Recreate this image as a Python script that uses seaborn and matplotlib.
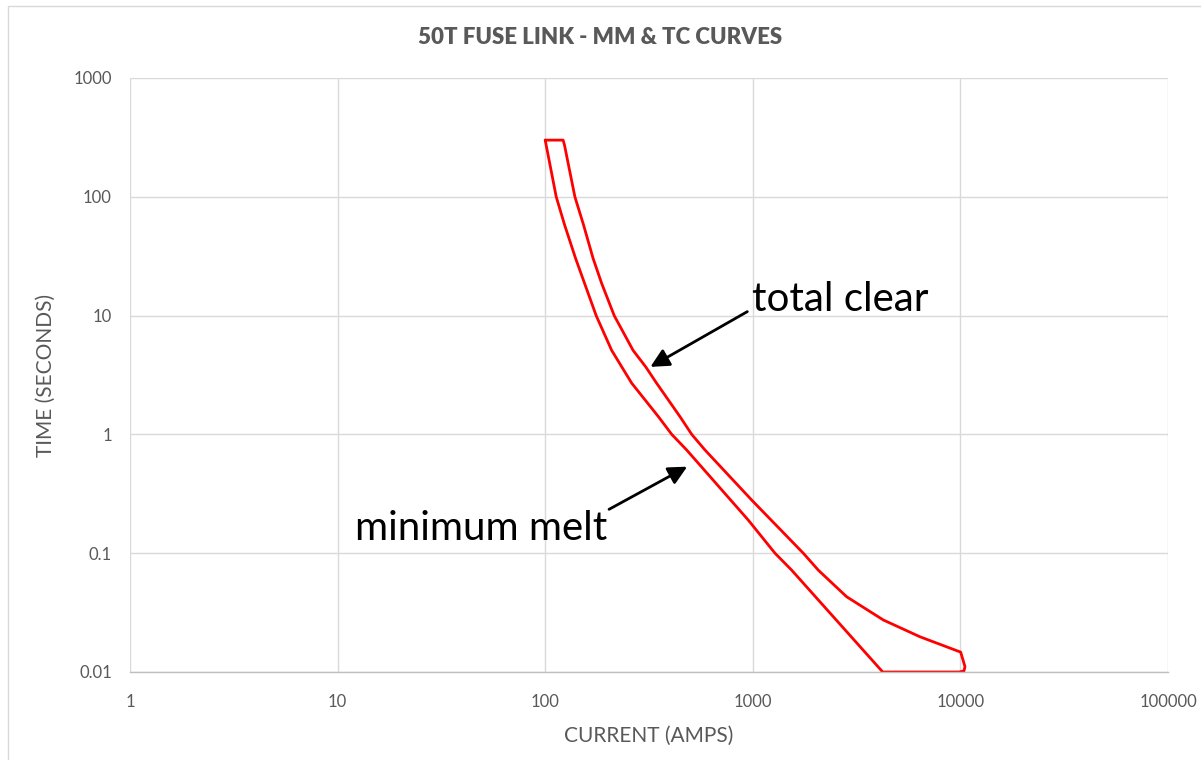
"""50T fuse link: minimum melt and total clear time-current curves."""

import numpy as np
import matplotlib
matplotlib.use('Agg')
import matplotlib.pyplot as plt
import seaborn as sns
from matplotlib.patches import Rectangle
from matplotlib.ticker import FixedLocator, FixedFormatter, NullLocator

# ── Data ──────────────────────────────────────────────────────────────────────
# minimum melt, top to bottom
mm_current = [100, 113, 124, 140, 176, 209, 261, 351, 407, 480, 951, 1279, 1539, 4225]
mm_time    = [300, 100, 58, 30.4, 10, 5.1, 2.7, 1.41, 1.0, 0.74, 0.19, 0.1, 0.072, 0.01]

# bottom-right corner where the outline closes at 0.01 s
hook_current = [9850, 10400, 10520]
hook_time    = [0.0100, 0.0102, 0.0111]

# total clear, top to bottom
tc_current = [122, 124, 139, 153, 170, 187, 215, 265, 305, 344, 446, 508, 588, 988,
              1751, 2068, 2831, 4255, 6383, 10030]
tc_time    = [300, 270, 100, 58, 30.4, 18.7, 10, 5.1, 3.7, 2.7, 1.41, 1.0, 0.74, 0.28,
              0.1, 0.072, 0.043, 0.0274, 0.0198, 0.0147]

x_ticks = [1, 10, 100, 1000, 10000, 100000]
x_tick_labels = ["1", "10", "100", "1000", "10000", "100000"]
y_ticks = [0.01, 0.1, 1, 10, 100, 1000]
y_tick_labels = ["0.01", "0.1", "1", "10", "100", "1000"]

# closed outline: MM down, along the bottom, TC back up, across the top
loop_current = mm_current + hook_current + tc_current[::-1] + mm_current[:1]
loop_time = mm_time + hook_time + tc_time[::-1] + mm_time[:1]

# ── Plot ──────────────────────────────────────────────────────────────────────
sns.set_theme(style='white')
plt.rcParams['font.family'] = ['Lato', 'DejaVu Sans']

TEXT_GREY = '#595959'
GRID_GREY = '#d9d9d9'

fig = plt.figure(figsize=(12.01, 7.6), dpi=100)
ax = fig.add_axes([130 / 1201, 1 - 672 / 760, (1168 - 130) / 1201, (672 - 78) / 760])

sns.lineplot(x=loop_current, y=loop_time, sort=False, estimator=None,
             color='#ff0000', linewidth=2.0, ax=ax)

ax.set_xscale('log')
ax.set_yscale('log')
ax.set_xlim(1, 100000)
ax.set_ylim(0.01, 1000)

ax.xaxis.set_major_locator(FixedLocator(x_ticks))
ax.xaxis.set_major_formatter(FixedFormatter(x_tick_labels))
ax.xaxis.set_minor_locator(NullLocator())
ax.yaxis.set_major_locator(FixedLocator(y_ticks))
ax.yaxis.set_major_formatter(FixedFormatter(y_tick_labels))
ax.yaxis.set_minor_locator(NullLocator())

ax.grid(True, which='major', color=GRID_GREY, linewidth=1.0)
ax.set_axisbelow(True)
for side in ['top', 'right', 'left']:
    ax.spines[side].set_visible(False)
ax.spines['bottom'].set_color('#bfbfbf')
ax.spines['bottom'].set_linewidth(1.0)
ax.tick_params(axis='both', length=0, labelsize=12, labelcolor=TEXT_GREY)
ax.tick_params(axis='x', pad=16)
ax.tick_params(axis='y', pad=13)

ax.set_xlabel("CURRENT (AMPS)", fontsize=15, color=TEXT_GREY, labelpad=11)
ax.set_ylabel("TIME (SECONDS)", fontsize=15, color=TEXT_GREY, labelpad=13)
fig.text(0.5, 1 - 38 / 760, "50T FUSE LINK - MM & TC CURVES", ha='center', va='center',
         fontsize=16, fontweight='heavy', color=TEXT_GREY)

arrow = dict(arrowstyle='-|>', color='black', lw=2.0, mutation_scale=28, shrinkA=0, shrinkB=0)
ax.annotate("", xy=(321, 3.7), xytext=(941, 10.8), arrowprops=arrow)
ax.annotate("", xy=(483, 0.535), xytext=(203, 0.234), arrowprops=arrow)
ax.text(995, 10.9, "total clear", ha='left', va='baseline', fontsize=29, color='black')
ax.text(12.1, 0.129, "minimum melt", ha='left', va='baseline', fontsize=29, color='black')

# chart-area border
fig.patches.append(Rectangle((8 / 1201, -0.05), 1.2, 1 - 6 / 760 + 0.05,
                             transform=fig.transFigure, fill=False,
                             edgecolor=GRID_GREY, linewidth=1.0))

fig.savefig('out.png', dpi=100)
plt.close(fig)
